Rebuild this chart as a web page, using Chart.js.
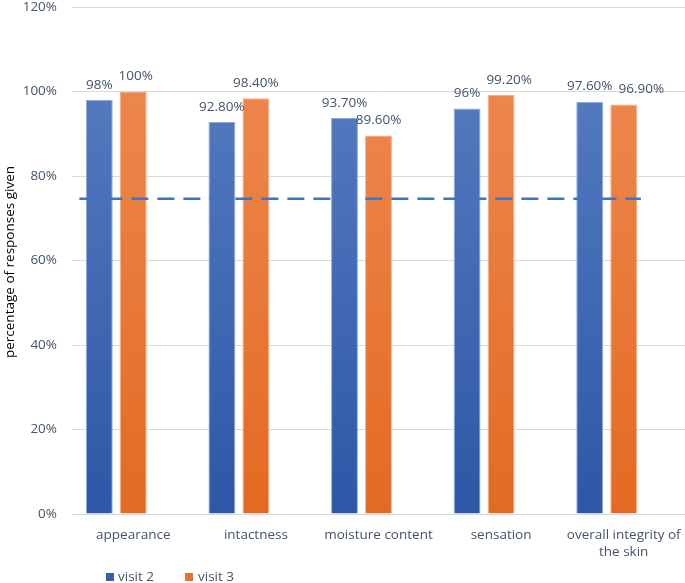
<!DOCTYPE html>
<html>
<head>
<meta charset="utf-8">
<script src="https://cdn.jsdelivr.net/npm/chart.js@4"></script>
<style>
  html, body { margin: 0; padding: 0; background: #fff; }
  #wrap { width: 685px; height: 583px; }
</style>
</head>
<body>
<div id="wrap"><canvas id="skinChart" width="685" height="583"></canvas></div>
<script>
const categories = ['appearance', 'intactness', 'moisture content', 'sensation', ['overall integrity of', 'the skin']];
const visit2 = [98, 92.8, 93.7, 96, 97.6];
const visit3 = [100, 98.4, 89.6, 99.2, 96.9];
const visit2Labels = ['98%', '92.80%', '93.70%', '96%', '97.60%'];
const visit3Labels = ['100%', '98.40%', '89.60%', '99.20%', '96.90%'];
const threshold = 74.6;
const yTicks = [0, 20, 40, 60, 80, 100, 120];

const textColor = '#44546a';
const fontFamily = '"Open Sans", "Noto Sans", sans-serif';

function gradient(ctx, top, bottom) {
    const area = ctx.chart.chartArea;
    if (!area) return bottom;
    const g = ctx.chart.ctx.createLinearGradient(0, area.top, 0, area.bottom);
    g.addColorStop(0, top);
    g.addColorStop(1, bottom);
    return g;
}

// value labels above bars, dashed reference line, legend, axis title
const extras = {
    id: 'extras',
    afterDatasetsDraw(chart) {
        const c = chart.ctx;
        const x = chart.scales.x, y = chart.scales.y;

        // dashed line
        const step = x.getPixelForValue(1) - x.getPixelForValue(0);
        const yLine = y.getPixelForValue(threshold);
        c.save();
        c.strokeStyle = '#3f74c4';
        c.lineWidth = 2.5;
        c.setLineDash([17, 9]);
        c.beginPath();
        c.moveTo(x.getPixelForValue(0) - 0.44 * step, yLine);
        c.lineTo(x.getPixelForValue(categories.length - 1) + 0.14 * step, yLine);
        c.stroke();
        c.restore();

        // value labels, second one nudged right when the two would collide
        c.save();
        c.font = '13.5px ' + fontFamily;
        c.fillStyle = textColor;
        c.textAlign = 'center';
        c.textBaseline = 'middle';
        const bars2 = chart.getDatasetMeta(0).data;
        const bars3 = chart.getDatasetMeta(1).data;
        bars2.forEach((b2, i) => {
            const b3 = bars3[i];
            const w2 = c.measureText(visit2Labels[i]).width;
            const w3 = c.measureText(visit3Labels[i]).width;
            const y2 = b2.y - 15, y3 = b3.y - 15;
            let x3 = b3.x;
            const right2 = b2.x + w2 / 2;
            const left3 = x3 - w3 / 2;
            if (Math.abs(y2 - y3) < 16 && left3 < right2 + 6) x3 += right2 + 6 - left3;
            c.fillText(visit2Labels[i], b2.x, y2);
            c.fillText(visit3Labels[i], x3, y3);
        });
        c.restore();
    },
    afterDraw(chart) {
        const c = chart.ctx;
        c.save();
        // y title
        c.font = '13.5px ' + fontFamily;
        c.fillStyle = '#000';
        c.textAlign = 'center';
        c.textBaseline = 'middle';
        c.translate(10, 262);
        c.rotate(-Math.PI / 2);
        c.fillText('percentage of responses given', 0, 0);
        c.restore();

        // legend
        c.save();
        c.font = '13.5px ' + fontFamily;
        c.textBaseline = 'middle';
        c.fillStyle = '#3460ae';
        c.fillRect(106, 573, 8, 8);
        c.fillStyle = textColor;
        c.fillText('visit 2', 118, 577);
        c.fillStyle = '#e8722f';
        c.fillRect(185, 573, 8, 8);
        c.fillStyle = textColor;
        c.fillText('visit 3', 198, 577);
        c.restore();
    }
};

new Chart(document.getElementById('skinChart'), {
    type: 'bar',
    data: {
        labels: categories,
        datasets: [
            {
                label: 'visit 2',
                data: visit2,
                backgroundColor: ctx => gradient(ctx, '#5b80c3', '#2d57a7'),
                borderColor: '#8ea7d6',
                borderWidth: 1,
                categoryPercentage: 0.832,
                barPercentage: 0.79
            },
            {
                label: 'visit 3',
                data: visit3,
                backgroundColor: ctx => gradient(ctx, '#ef8c55', '#e36a22'),
                borderColor: '#f3ad86',
                borderWidth: 1,
                categoryPercentage: 0.832,
                barPercentage: 0.79
            },
            {
                label: '',
                data: [null, null, null, null, null],
                backgroundColor: 'rgba(0,0,0,0)',
                categoryPercentage: 0.832,
                barPercentage: 0.79
            }
        ]
    },
    options: {
        responsive: false,
        animation: false,
        layout: { padding: { top: 7, right: 0, left: 0, bottom: 0 } },
        plugins: {
            legend: { display: false },
            tooltip: { enabled: false }
        },
        scales: {
            x: {
                grid: { display: false },
                border: { color: '#d9d9d9', width: 1 },
                ticks: {
                    color: textColor,
                    font: { family: fontFamily, size: 13.5, lineHeight: 1.3 },
                    padding: 4,
                    maxRotation: 0,
                    autoSkip: false
                },
                afterFit(scale) { scale.height = 69; }
            },
            y: {
                min: 0,
                max: 120,
                afterBuildTicks(scale) { scale.ticks = yTicks.map(v => ({ value: v })); },
                grid: { color: '#d9d9d9', drawTicks: false },
                border: { display: false },
                ticks: {
                    color: textColor,
                    font: { family: fontFamily, size: 13.5 },
                    padding: 15,
                    callback: v => v + '%'
                },
                afterFit(scale) {
                    scale.width = 72;
                    scale.paddingTop = 0;
                    scale.paddingBottom = 0;
                }
            }
        }
    },
    plugins: [extras]
});
</script>
</body>
</html>
